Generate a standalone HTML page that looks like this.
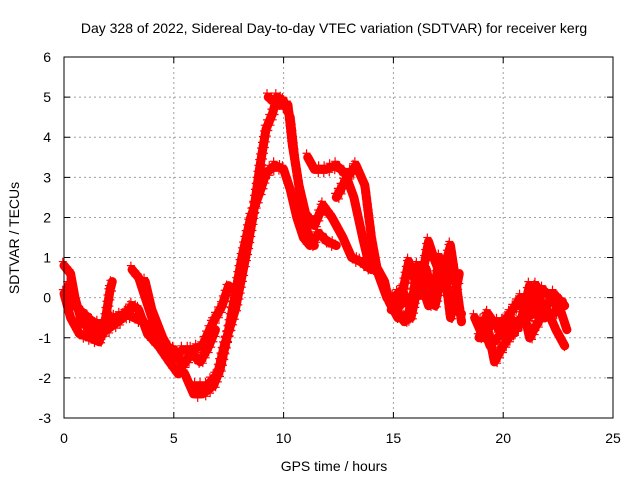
<!DOCTYPE html>
<html><head><meta charset="utf-8"><style>
body{margin:0;background:#fff}
svg text{font-family:"Liberation Sans",sans-serif;font-size:14px;fill:#000}
</style></head><body>
<svg id="chart" width="640" height="480" xmlns="http://www.w3.org/2000/svg">
<text x="334" y="33" text-anchor="middle">Day 328 of 2022, Sidereal Day-to-day VTEC variation (SDTVAR) for receiver kerg</text>
<g id="grid"></g>
<g id="axes"></g>
<g id="series"></g>
<text x="334" y="471" text-anchor="middle">GPS time / hours</text>
<text x="0" y="0" text-anchor="middle" transform="translate(19,238) rotate(-90)">SDTVAR / TECUs</text>
<rect x="64" y="57" width="549" height="361" fill="none" stroke="#000" stroke-width="1"/>
</svg>
<script>
const xTicks=[0,5,10,15,20,25];
const yTicks=[-3,-2,-1,0,1,2,3,4,5,6];
const arc1=[[0,0.8],[0.3,0.6],[0.5,0],[0.8,-0.6],[1.2,-0.8],[1.7,-0.9],[2.2,-0.7],[2.7,-0.5],[3.1,-0.2],[3.4,-0.3],[3.8,-0.9],[4.3,-1.2],[4.8,-1.6],[5.2,-1.9]];
const arc2=[[0,0.1],[0.3,-0.5],[0.7,-0.9],[1.2,-1.0],[1.6,-1.1],[1.9,-0.5],[2.1,0.2],[2.2,0.4]];
const arc3=[[3.1,0.7],[3.4,0.5],[3.7,0],[4.0,-0.5],[4.3,-1.1],[4.6,-1.4]];
const arc4=[[3.7,0.4],[4.0,-0.3],[4.5,-1.0],[5.0,-1.5],[5.4,-1.3],[5.8,-1.3],[6.3,-1.2],[6.8,-0.6],[7.2,-0.2],[7.5,0.3]];
const arc5=[[5.5,-1.9],[5.9,-2.4],[6.3,-2.4],[6.8,-2.2],[7.1,-1.8],[7.5,-0.8],[7.8,0.1],[8.1,1.0],[8.5,2.0],[8.9,2.6],[9.2,3.1],[9.6,3.3],[10.0,3.2],[10.3,2.7],[10.6,2.0],[10.9,1.5],[11.2,1.3],[11.6,1.6],[12.0,1.4],[12.4,1.3]];
const arc6=[[6.0,-2.2],[6.5,-2.2],[7.0,-1.9],[7.3,-1.2],[7.8,-0.3],[8.2,0.8],[8.6,2.0],[8.9,3.2],[9.2,4.2],[9.5,4.6],[9.7,5.0],[10.0,4.9],[10.3,4.5],[10.5,3.5],[10.8,2.4],[11.1,1.6],[11.4,1.3]];
const arc7=[[9.3,5.0],[9.8,4.8],[10.2,4.8],[10.4,3.8],[10.7,2.8],[11.0,2.1],[11.4,1.8],[11.8,2.3],[12.2,2.0],[12.7,1.5],[13.1,1.0],[13.5,0.9],[14.0,0.7]];
const arc8=[[11.1,3.5],[11.4,3.2],[11.9,3.2],[12.4,3.3],[12.8,3.1],[13.2,2.5],[13.6,1.5],[13.9,0.8],[14.3,0.7],[14.6,0.4],[14.8,-0.1],[15.2,-0.5],[15.8,-0.5],[16.0,0],[16.3,0.3],[16.6,-0.2],[17.0,0.3],[17.3,0.6],[17.5,0.1],[17.8,-0.3],[18.1,-0.4]];
const arc9=[[12.4,2.5],[12.9,3.0],[13.3,3.3],[13.7,2.8],[14.0,1.5],[14.3,0.6],[14.7,0],[15.1,-0.3],[15.5,-0.6],[15.9,-0.1],[16.2,0.2],[16.6,1.4],[16.9,0.9],[17.2,0.5],[17.6,1.3],[17.9,0.2],[18.1,-0.6]];
const arc10=[[18.7,-0.5],[19.1,-1.0],[19.5,-0.6],[20.0,-0.6],[20.4,-0.9],[20.8,-0.6],[21.2,0.3],[21.6,-0.4],[22.0,-0.3],[22.4,-0.8],[22.8,-1.2]];
const arc11=[[19.2,-0.5],[19.6,-1.6],[20.0,-1.2],[20.5,-0.8],[21.0,-0.5],[21.4,-0.4],[21.8,0.2],[22.2,0],[22.6,-0.3],[22.9,-0.8]];
const arc12=[[18.9,-1.0],[19.3,-0.4],[19.8,-0.8],[20.3,-0.4],[20.8,0],[21.2,-1.0],[21.5,-0.7],[21.9,-0.3],[22.3,0.1],[22.8,-0.2]];
const arc13=[[0.2,0.3],[0.5,-0.2],[0.9,-0.4],[1.3,-0.6],[1.8,-0.7],[2.3,-0.5],[2.8,-0.4],[3.2,-0.5],[3.6,-0.6],[4.0,-0.8]];
const arc14=[[15.0,0],[15.4,0.2],[15.8,-0.3],[16.1,0.8],[16.4,0.4],[16.8,0],[17.1,1.0],[17.4,0.3],[17.7,0.9],[18.0,-0.3]];
const arc15=[[14.9,-0.3],[15.3,-0.2],[15.7,0.9],[16.0,0.4],[16.5,0.7],[16.9,-0.2],[17.3,0.8],[17.6,-0.5],[18.0,0.6]];
const arc16=[[19.0,-0.6],[19.4,-1.2],[19.9,-0.9],[20.3,-0.5],[20.7,-0.7],[21.1,-0.3],[21.5,0.3],[21.9,-0.5],[22.3,-0.4],[22.7,-0.1]];
const arc17=[[4.2,-0.6],[4.6,-1.2],[5.0,-1.3],[5.4,-1.7],[5.8,-1.4],[6.2,-1.6],[6.6,-1.2],[6.9,-0.8]];
const arcs=[arc1,arc2,arc3,arc4,arc5,arc6,arc7,arc8,arc9,arc10,arc11,arc12,arc13,arc14,arc15,arc16,arc17];

const NS='http://www.w3.org/2000/svg';
const X0=64,X1=613,Y0=418,Y1=57;
function sx(t){return X0+(t-0)/(25-0)*(X1-X0);}
function sy(v){return Y0-(v+3)/(6+3)*(Y0-Y1);}
function mk(tag,attrs,parent){const e=document.createElementNS(NS,tag);for(const k in attrs)e.setAttribute(k,attrs[k]);parent.appendChild(e);return e;}
const grid=document.getElementById('grid'),axes=document.getElementById('axes'),ser=document.getElementById('series');
xTicks.forEach(t=>{
  const x=sx(t);
  if(t>0&&t<25){const g=mk('line',{x1:x,y1:Y1,x2:x,y2:Y0,stroke:'#a0a0a0','stroke-dasharray':'2,3'},grid);
  
  }
  const tk=mk('path',{d:`M${x},${Y0}v-6M${x},${Y1}v6`,stroke:'#000'},axes);
  
  
  const lb=mk('text',{x:x,y:443,'text-anchor':'middle'},axes);lb.textContent=t;
  
  
});
yTicks.forEach(v=>{
  const y=sy(v);
  if(v>-3&&v<6){const g=mk('line',{x1:X0,y1:y,x2:X1,y2:y,stroke:'#a0a0a0','stroke-dasharray':'2,3'},grid);
  
  }
  const tk=mk('path',{d:`M${X0},${y}h6M${X1},${y}h-6`,stroke:'#000'},axes);
  
  
  const lb=mk('text',{x:51,y:y+5,'text-anchor':'end'},axes);lb.textContent=v;
  
  
});
arcs.forEach((arc,i)=>{
  const pts=arc.map(p=>sx(p[0])+','+sy(p[1])).join(' ');
  const pl=mk('polyline',{points:pts,fill:'none',stroke:'#ff0000','stroke-width':9,'stroke-linejoin':'round','stroke-linecap':'round'},ser);
  
  
  let d='';
  for(let j=0;j<arc.length-1;j++){
    const xa=sx(arc[j][0]),ya=sy(arc[j][1]),xb=sx(arc[j+1][0]),yb=sy(arc[j+1][1]);
    const n=Math.max(1,Math.round(Math.hypot(xb-xa,yb-ya)/3));
    for(let k=0;k<n;k++){const x=xa+(xb-xa)*k/n,y=ya+(yb-ya)*k/n;
      const o=(k%2?4:-4);
      d+=`M${x-4+o*0.3},${y+o}h8M${x+o*0.3},${y-4+o}v8`;}
  }
  const mp=mk('path',{d:d,stroke:'#ff0000','stroke-width':1.2,fill:'none'},ser);
  
  
});
</script>
</body></html>
